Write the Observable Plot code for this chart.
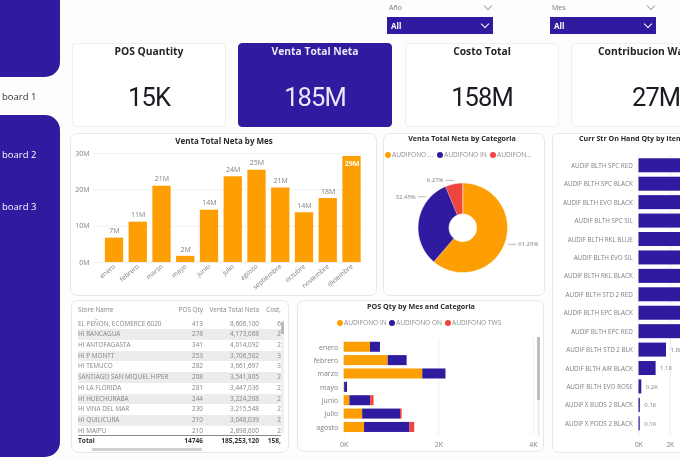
<!DOCTYPE html>
<html><head><meta charset="utf-8">
<script src="https://cdn.jsdelivr.net/npm/d3@7"></script>
<script src="https://cdn.jsdelivr.net/npm/@observablehq/plot@0.6"></script>
<style>
html,body{margin:0;padding:0;width:680px;height:459px;overflow:hidden;background:#fdfdfe;font-family:"Open Sans",sans-serif;color:#252525}
#page{position:absolute;left:0;top:0;width:680px;height:459px;overflow:hidden;filter:blur(.3px)}
.abs{position:absolute;white-space:nowrap}
.side{position:absolute;background:#2e1b9f;border-radius:15px;left:-20px;width:80px}
.card{position:absolute;top:43px;height:84px;width:154px;background:#fff;border:1px solid #efeff1;box-sizing:border-box;border-radius:4px}
.card.on{background:#2e1b9f;border-color:#2e1b9f}
.kt{position:absolute;top:43px;font-weight:700;font-size:10.3px;line-height:16px;text-align:center;white-space:nowrap}
.kv{position:absolute;top:79px;font-family:Roboto,sans-serif;font-size:25.5px;line-height:36px;text-align:center;white-space:nowrap;color:#1a1a22;letter-spacing:-.9px}
.panel{position:absolute;background:#fff;border:1px solid #e7e7ea;border-radius:7px;box-sizing:border-box}
.pt{position:absolute;font-weight:700;font-size:7.2px;line-height:11px;white-space:nowrap;color:#2a2a2a;transform:translateX(-50%)}
.box{position:absolute;top:17px;height:17px;width:106px;background:#2e1b9f}
.all{position:absolute;top:21px;color:#fff;font-weight:700;font-size:8px;line-height:10px}
.lab{position:absolute;top:3px;color:#777;font-size:7px;line-height:9px}
.chev{position:absolute;width:5px;height:5px;border-right:1.4px solid;border-bottom:1.4px solid;transform:rotate(45deg)}
.leg{position:absolute;font-size:6.6px;color:#8d8d8d;white-space:nowrap;line-height:8px}
.dot{position:absolute;width:6px;height:6px;border-radius:50%}
.chart{position:absolute}
.chart svg{overflow:hidden;background:transparent;display:block}
#tbl{position:absolute;left:78px;top:305px;width:203px;overflow:hidden;font-size:6.4px;color:#858585}
.r{position:relative;height:10.7px;line-height:10.7px;white-space:nowrap}
.r.g{background:#ececef}
.r span{position:absolute;top:0}
.c0{left:0}.c1{right:78px}.c2{right:22px}.c3{right:0}
</style></head><body><div id="page">

<div class="side" style="top:-30px;height:107px"></div>
<div class="side" style="top:115px;height:342px"></div>
<div class="abs" style="left:2px;top:90px;font-size:9.5px;line-height:14px;color:#333">board 1</div>
<div class="abs" style="left:2px;top:148px;font-size:9.5px;line-height:14px;color:#fff">board 2</div>
<div class="abs" style="left:2px;top:200px;font-size:9.5px;line-height:14px;color:#fff">board 3</div>

<div class="lab" style="left:389px">Año</div>
<div class="chev" style="left:485px;top:3px;color:#aaa"></div>
<div class="box" style="left:387px"></div><div class="all" style="left:391px">All</div>
<div class="chev" style="left:482px;top:21px;color:#fff"></div>
<div class="lab" style="left:552px">Mes</div>
<div class="chev" style="left:648px;top:3px;color:#aaa"></div>
<div class="box" style="left:550px"></div><div class="all" style="left:554px">All</div>
<div class="chev" style="left:645px;top:21px;color:#fff"></div>

<div class="card" style="left:72px"></div>
<div class="card on" style="left:238px"></div>
<div class="card" style="left:405px"></div>
<div class="card" style="left:571px;width:130px"></div>
<div class="kt" style="left:72px;width:154px">POS Quantity</div>
<div class="kt" style="left:238px;width:154px;color:#e8e6f7">Venta Total Neta</div>
<div class="kt" style="left:405px;width:154px">Costo Total</div>
<div class="kt" style="left:598px">Contribucion Wa</div>
<div class="kv" style="left:72px;width:154px">15K</div>
<div class="kv" style="left:238px;width:154px;color:#e8e6f7">185M</div>
<div class="kv" style="left:405px;width:154px">158M</div>
<div class="kv" style="left:632px">27M</div>

<div class="panel" style="left:70px;top:133px;width:307px;height:163px"></div>
<div class="pt" style="left:224px;top:135px;font-size:8px">Venta Total Neta by Mes</div>
<div class="chart" id="c1" style="left:70px;top:133px"></div>

<div class="panel" style="left:383px;top:133px;width:162px;height:163px"></div>
<div class="pt" style="left:462px;top:133px">Venta Total Neta by Categoria</div>
<div class="dot" style="left:385px;top:152px;background:#fd9f03"></div><div class="leg" style="left:392px;top:151px">AUDIFONO ...</div>
<div class="dot" style="left:437px;top:152px;background:#2e1b9f"></div><div class="leg" style="left:444px;top:151px">AUDIFONO IN</div>
<div class="dot" style="left:490px;top:152px;background:#f0443e"></div><div class="leg" style="left:497px;top:151px">AUDIFON...</div>
<div class="chart" id="c2" style="left:383px;top:133px"></div>

<div class="panel" style="left:552px;top:133px;width:160px;height:320px"></div>
<div class="abs" style="left:579px;top:133px;font-weight:700;font-size:7.1px;line-height:11px;color:#2a2a2a">Curr Str On Hand Qty by Item</div>
<div class="chart" id="c3" style="left:552px;top:150px"></div>

<div class="panel" style="left:71px;top:300px;width:218px;height:153px"></div>
<div id="tbl"></div>
<div class="abs" style="left:281px;top:320px;width:3px;height:113px;background:#f0f0f2"></div>
<div class="abs" style="left:281px;top:322px;width:3px;height:12px;background:#b9b9bd"></div>
<div class="abs" style="left:92px;top:448px;width:110px;height:3px;background:#cfcfd3"></div>

<div class="panel" style="left:297px;top:300px;width:247px;height:152px"></div>
<div class="pt" style="left:421px;top:301px">POS Qty by Mes and Categoria</div>
<div class="dot" style="left:337px;top:320px;background:#fd9f03"></div><div class="leg" style="left:344px;top:319px">AUDIFONO IN</div>
<div class="dot" style="left:389px;top:320px;background:#2e1b9f"></div><div class="leg" style="left:396px;top:319px">AUDIFONO ON</div>
<div class="dot" style="left:445px;top:320px;background:#f0443e"></div><div class="leg" style="left:452px;top:319px">AUDIFONO TWS</div>
<div class="chart" id="c4" style="left:297px;top:335px"></div>
<div class="abs" style="left:537px;top:337px;width:3px;height:100px;background:#f1f1f3"></div>
<div class="abs" style="left:537px;top:337px;width:3px;height:63px;background:#bdbdc1"></div>
</div>

<script>
const ORANGE="#fd9f03", BLUE="#2e1b9f", RED="#f0443e", GREY="#808080", FAINT="#f1f1f3";

// Venta Total Neta by Mes
const meses=["enero","febrero","marzo","mayo","junio","julio","agosto","septiembre","octubre","noviembre","diciembre"];
const ventaMes=[6.7,11.1,21,1.7,14.4,23.6,25.4,20.5,13.7,17.6,29.2];

// Venta Total Neta by Categoria
const categorias=["AUDIFONO ON","AUDIFONO IN","AUDIFONO TWS"];
const shares=[61.29,32.45,6.27];
const shareColors=[ORANGE,BLUE,RED];

// Curr Str On Hand Qty by Item (the longest bars run past the picture's right edge; their ends are estimates)
const items=["AUDIF BLTH SPC RED","AUDIF BLTH SPC BLACK","AUDIF BLTH EVO BLACK","AUDIF BLTH SPC SIL","AUDIF BLTH RKL BLUE","AUDIF BLTH EVO SIL","AUDIF BLTH RKL BLACK","AUDIF BLTH STD 2 RED","AUDIF BLTH EPC BLACK","AUDIF BLTH EPC RED","AUDIF BLTH STD 2 BLK","AUDIF BLTH AIR BLACK","AUDIF BLTH EVO ROSE","AUDIF X BUDS 2 BLACK","AUDIF X PODS 2 BLACK"];
const onHand=[6800,6200,5700,5300,5000,4700,4400,4100,3800,3500,1760,1100,190,100,90];

// POS Qty by Mes and Categoria
const mesesPos=["enero","febrero","marzo","mayo","junio","julio","agosto"];
const posIn=[556,930,1660,10,120,390,430];
const posOn=[210,400,490,60,440,800,960];
const posTws=[0,0,0,0,70,35,100];

// Store table
const stores=["EL PEÑON, ECOMERCE 6020","HI RANCAGUA","HI ANTOFAGASTA","HI P MONTT","HI TEMUCO","SANTIAGO SAN MIQUEL HIPER","HI LA FLORIDA","HI HUECHURABA","HI VINA DEL MAR","HI QUILICURA","HI MAIPU"];
const qty=[413,278,341,253,282,208,281,244,230,210,210];
const venta=["8,606,100","4,173,068","4,014,092","3,706,502","3,661,697","3,541,805","3,447,036","3,224,208","3,215,548","3,048,039","2,898,600"];
const costo=["6","2","2","3","3","2","2","2","2","2","2"];

const axisStyle={fontFamily:"'Open Sans',sans-serif",background:"transparent"};

/* Bars by month */
const dataMes=meses.map((m,i)=>({m,v:ventaMes[i]*1e6,label:Math.round(ventaMes[i])+"M"}));
const last=dataMes.length-1;
document.getElementById("c1").append(Plot.plot({
  width:307,height:163,marginLeft:23,marginRight:15,marginTop:20,marginBottom:34,
  style:axisStyle,
  x:{domain:meses,range:[29.4,296.1],padding:.23,round:false,label:null},
  y:{domain:[0,30e6],label:null},
  marks:[
    Plot.gridY([0,1e7,2e7,3e7],{stroke:FAINT,strokeOpacity:1}),
    Plot.barY(dataMes,{x:"m",y:"v",fill:ORANGE}),
    Plot.axisY([0,1e7,2e7,3e7],{tickSize:0,tickPadding:4,tickFormat:d=>d/1e6+"M",fontSize:7,color:GREY,label:null}),
    Plot.axisX({tickSize:0,tickPadding:3,tickRotate:-40,fontSize:6.6,color:GREY,label:null}),
    Plot.text(dataMes.filter((d,i)=>i!==last),{x:"m",y:"v",text:"label",dy:-7,fontSize:7,fill:GREY}),
    Plot.text(dataMes.filter((d,i)=>i===last),{x:"m",y:"v",text:"label",dy:7.5,fontSize:7,fontWeight:700,fill:"#fff"})
  ]
}));

/* Donut: polygons from d3.pie through the x/y scales */
const R=44.8, rIn=13.8;
const pie=d3.pie().sort(null)(shares);
const polar=(a,r)=>[Math.sin(a)*r,-Math.cos(a)*r];
const slicePts=pie.flatMap((p,i)=>{
  const n=Math.ceil((p.endAngle-p.startAngle)*60), out=[];
  for(let k=0;k<=n;k++)out.push(polar(p.startAngle+(p.endAngle-p.startAngle)*k/n,R));
  for(let k=n;k>=0;k--)out.push(polar(p.startAngle+(p.endAngle-p.startAngle)*k/n,rIn));
  return out.map(([x,y])=>({x,y,c:categorias[i]}));
});
const labelDeg=[110,310,349];
const labels=shares.map((s,i)=>{
  const [x,y]=polar(labelDeg[i]*Math.PI/180,R+3.5), dir=x>0?1:-1;
  return {x,y,x2:x+dir*8,t:s.toFixed(2)+"%",dir};
});
document.getElementById("c2").append(Plot.plot({
  width:162,height:163,margin:0,style:axisStyle,
  x:{domain:[-79.3,82.7],range:[0,162],axis:null},
  y:{domain:[-94.3,68.7],range:[0,163],axis:null},
  color:{domain:categorias,range:shareColors},
  marks:[
    Plot.line(slicePts,{x:"x",y:"y",z:"c",fill:"c",stroke:"#fff",strokeWidth:.6,curve:"linear"}),
    Plot.link(labels,{x1:"x",y1:"y",x2:"x2",y2:"y",stroke:"#9a9a9a",strokeWidth:.7}),
    Plot.text(labels.filter(d=>d.dir>0),{x:"x2",y:"y",text:"t",dx:2,textAnchor:"start",fontSize:6,fill:GREY}),
    Plot.text(labels.filter(d=>d.dir<0),{x:"x2",y:"y",text:"t",dx:-2,textAnchor:"end",fontSize:6,fill:GREY})
  ]
}));

/* Item bars */
const dataItem=items.map((n,i)=>({n,v:onHand[i]}));
document.getElementById("c3").append(Plot.plot({
  width:128,height:305,marginLeft:86.3,marginRight:0,marginTop:3.85,marginBottom:20.25,
  style:axisStyle,
  x:{domain:[0,2652],label:null},
  y:{domain:items,padding:.24,round:false,label:null},
  marks:[
    Plot.gridX([0,2000],{stroke:"#ececef",strokeOpacity:1}),
    Plot.barX(dataItem,{y:"n",x:"v",fill:BLUE,clip:true}),
    Plot.axisY({tickSize:0,tickPadding:6,fontSize:6.3,color:GREY,label:null,marginLeft:86.3}),
    Plot.axisX([0,2000],{tickSize:0,tickPadding:6.7,tickFormat:d=>d/1000+"K",fontSize:6.5,color:GREY,label:null}),
    Plot.text(dataItem.filter(d=>d.v<2000),{y:"n",x:"v",text:d=>(d.v/1000).toFixed(1)+"K",dx:4,textAnchor:"start",fontSize:6,fill:GREY})
  ]
}));

/* Stacked bars */
const stacked=mesesPos.flatMap((m,i)=>[
  {m,c:"AUDIFONO IN",v:posIn[i]},{m,c:"AUDIFONO ON",v:posOn[i]},{m,c:"AUDIFONO TWS",v:posTws[i]}]);
document.getElementById("c4").append(Plot.plot({
  width:247,height:117,marginLeft:46.7,marginRight:11,marginTop:3.4,marginBottom:16.7,
  style:axisStyle,
  x:{domain:[0,4000],label:null},
  y:{domain:mesesPos,padding:.25,round:false,label:null},
  color:{domain:["AUDIFONO IN","AUDIFONO ON","AUDIFONO TWS"],range:[ORANGE,BLUE,RED]},
  marks:[
    Plot.gridX([0,2000,4000],{stroke:FAINT,strokeOpacity:1}),
    Plot.barX(stacked,{y:"m",x:"v",fill:"c",order:["AUDIFONO IN","AUDIFONO ON","AUDIFONO TWS"]}),
    Plot.axisY({tickSize:0,tickPadding:6,fontSize:7,color:GREY,label:null}),
    Plot.axisX([0,2000,4000],{tickSize:0,tickPadding:6,tickFormat:d=>d/1000+"K",fontSize:7,color:GREY,label:null})
  ]
}));

/* Table */
const row=(c,cls,st="")=>`<div class="r ${cls}" style="${st}"><span class="c0">${c[0]}</span><span class="c1">${c[1]}</span><span class="c2">${c[2]}</span><span class="c3">${c[3]}</span></div>`;
let html=row(["Store Name","POS Qty","Venta Total Neta","Cost,"],"");
html+=`<div style="height:3px"></div>`;
stores.forEach((s,i)=>{html+=row([s,qty[i],venta[i],costo[i]],i%2?"g":"");});
html+=row(["Total","14746","185,253,120","158,"],"","font-weight:700;color:#333;border-top:1px solid #8a8a8a;margin-top:-1px;font-size:6.6px");
document.getElementById("tbl").innerHTML=html;
</script>
</body></html>
